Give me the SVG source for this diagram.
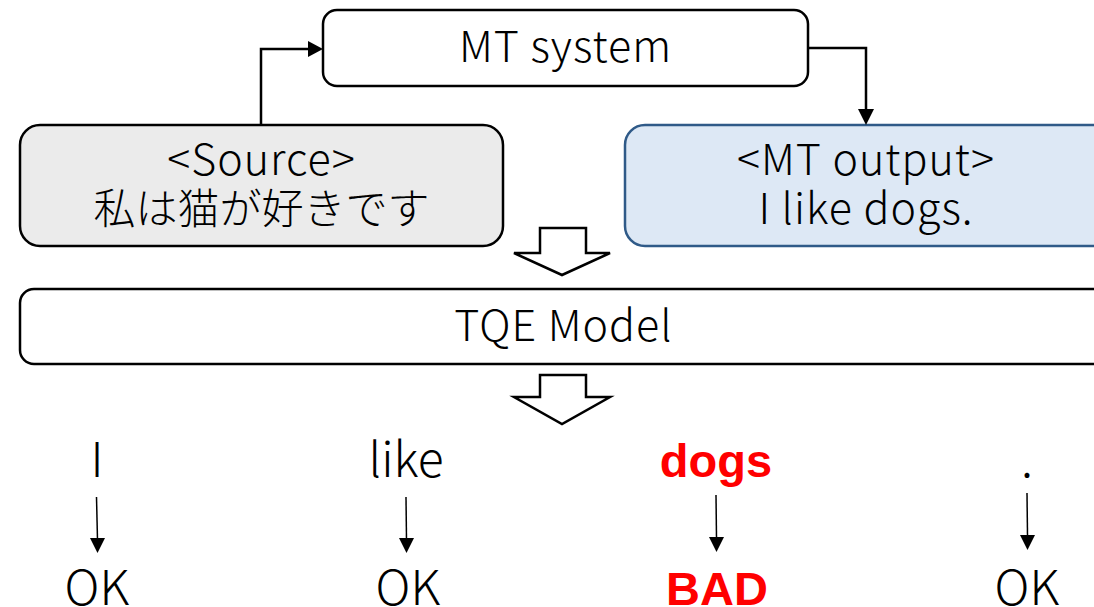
<svg xmlns="http://www.w3.org/2000/svg" width="1094" height="607" viewBox="0 0 1094 607">
<defs>
<style>
.box{fill:#fff;stroke:#000;stroke-width:2.5}
.src{fill:#ebebeb;stroke:#000;stroke-width:2.5}
.mto{fill:#dde8f5;stroke:#2f5a88;stroke-width:2.5}
.t{font-family:"Noto Sans CJK JP","Noto Sans",sans-serif;font-weight:300;fill:#000;text-anchor:middle}
.w{font-size:43px;letter-spacing:1px}
.b{font-family:"Liberation Sans",Arial,sans-serif;font-weight:bold;fill:#ff0000;text-anchor:middle}
.conn{fill:none;stroke:#000;stroke-width:2.5}
.thin{fill:none;stroke:#000;stroke-width:1.5}
.block{fill:#fff;stroke:#000;stroke-width:2.5;stroke-linejoin:miter}
</style>
</defs>
<g id="mt-system">
<rect class="box" x="323" y="10" width="485" height="76" rx="14"/>
<text class="t w" x="565.5" y="62">MT system</text>
</g>
<g id="source">
<rect class="src" x="20" y="125" width="483" height="121" rx="20"/>
<text class="t w" x="261.5" y="175">&lt;Source&gt;</text>
<text class="t" x="261.5" y="224" font-size="42">私は猫が好きです</text>
</g>
<g id="mt-output">
<rect class="mto" x="625" y="125" width="500" height="121" rx="20"/>
<text class="t w" x="866" y="175">&lt;MT output&gt;</text>
<text class="t w" x="866" y="224">I like dogs.</text>
</g>
<g id="tqe-model">
<rect class="box" x="20" y="289" width="1100" height="75" rx="14"/>
<text class="t w" x="563.5" y="341">TQE Model</text>
</g>
<g id="tokens">
<text class="t" x="97" y="477" font-size="48">I</text>
<text class="t" x="406" y="477" font-size="48">like</text>
<text class="b" x="716" y="477" font-size="47">dogs</text>
<text class="t" x="1027" y="477" font-size="48">.</text>
<text class="t" x="97" y="605" font-size="48">OK</text>
<text class="t" x="408" y="605" font-size="48">OK</text>
<text class="b" x="717" y="605" font-size="47">BAD</text>
<text class="t" x="1027" y="605" font-size="48">OK</text>
</g>
<g id="connectors">
<path class="conn" d="M261,125 V49 H308"/>
<path d="M308,41 L323,49 L308,57 Z" fill="#000"/>
<path class="conn" d="M808,48 H866 V110"/>
<path d="M858,109 L866,125 L874,109 Z" fill="#000"/>
<path class="block" d="M540,228 H586 V253 H610 L562,275 L514,253 H540 Z"/>
<path class="block" d="M540,375 H586 V397 H610 L562,424 L514,397 H540 Z"/>
<path class="thin" d="M96.5,497 L97.5,540"/>
<path d="M90,538 L97.5,553 L105,538 Z" fill="#000"/>
<path class="thin" d="M406,497 L406.5,540"/>
<path d="M399,538 L406.5,553 L414,538 Z" fill="#000"/>
<path class="thin" d="M716,495 L716.5,538"/>
<path d="M709,537 L716.5,552 L724,537 Z" fill="#000"/>
<path class="thin" d="M1027,493 L1027.5,536"/>
<path d="M1020,535 L1027.5,550 L1035,535 Z" fill="#000"/>
</g>
</svg>
